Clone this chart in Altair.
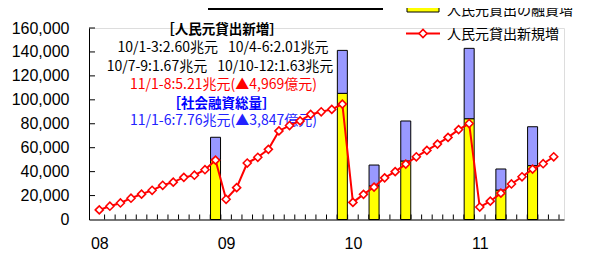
import altair as alt
import pandas as pd

# ---------------- data (億元) ----------------
months = list(range(44))  # 2008-01 .. 2011-08
loan_cum = [8000, 11100, 13800, 17800, 21200, 24400, 28600, 31200, 35200, 37000, 41600, 49600,
            16900, 26600, 47200, 52000, 58600, 74000, 78500, 82400, 87800, 90000, 92000, 96400,
            14300, 21000, 27100, 34800, 40000, 46300, 52400, 57700, 63000, 68600, 75100, 80200,
            10400, 15300, 22000, 29700, 35700, 42100, 46600, 52400]
bar_months = [11, 23, 26, 29, 35, 38, 41]
bar_loans = [50300, 105400, 28000, 48900, 84200, 24600, 45000]
bar_totals = [68700, 141300, 45500, 82300, 143000, 42200, 77500]
year_labels = ["08", "09", "10", "11"]
y_ticks = [0, 20000, 40000, 60000, 80000, 100000, 120000, 140000, 160000]
x_ticks = list(range(1, 45))

ann_texts = ["［人民元貸出新増］",
             "10/1-3:2.60兆元\u2002 10/4-6:2.01兆元",
             "10/7-9:1.67兆元\u2002 10/10-12:1.63兆元",
             "11/1-8:5.21兆元(▲4,969億元)",
             "［社会融資総量］",
             "11/1-6:7.76兆元(▲3,847億元)"]
legend_texts = ["人民元貸出の融資増", "人民元貸出新規増"]

# ---------------- layout ----------------
W, H = 475, 191.5
CJK = "Noto Sans CJK JP, sans-serif"
LAT = "Liberation Sans, Arial, sans-serif"

xs = alt.Scale(domain=[0, 44], nice=False, zero=False)
ys = alt.Scale(domain=[0, 160000], nice=False)

line_df = pd.DataFrame({"pos": [m + 0.5 for m in months], "v": loan_cum})
bar_df = pd.DataFrame({"pos": [m + 0.5 for m in bar_months], "loan": bar_loans, "total": bar_totals})
one = pd.DataFrame({"a": [0]})

label_expr = "[" + ",".join("'%s'" % s for s in year_labels) + "][floor(datum.value / 12)]"

x_axis = alt.Axis(values=[0.5, 12.5, 24.5, 36.5], labelExpr=label_expr, tickSize=0, grid=False,
                  domainColor="#000", domainWidth=1, labelFont=LAT, labelFontSize=16,
                  labelColor="#000", labelPadding=16, title=None)
y_axis = alt.Axis(values=y_ticks, labelExpr="format(datum.value, ',')", tickSize=0, grid=False,
                  domainColor="#000", domainWidth=1, labelFont=LAT, labelFontSize=16,
                  labelColor="#000", labelPadding=20, title=None)


def X(f):
    return alt.X(f, scale=xs, axis=x_axis)


def Y(f):
    return alt.Y(f, scale=ys, axis=y_axis)


# bars
yellow = alt.Chart(bar_df).mark_bar(size=10, color="#FFFF00", stroke="#000", strokeWidth=1).encode(
    x=X("pos:Q"), y=Y("loan:Q"))
purple = alt.Chart(bar_df).mark_bar(size=10, color="#9999FF", stroke="#000", strokeWidth=1).encode(
    x=X("pos:Q"), y=Y("loan:Q"), y2="total:Q")

layers = [yellow, purple]

# annotations
ann_style = [
    dict(x=133, y=2, color="#000", bold=True),
    dict(x=134, y=20, color="#000", bold=False),
    dict(x=131, y=39, color="#000", bold=False),
    dict(x=134.5, y=56.5, color="#FF0000", bold=False),
    dict(x=132.5, y=75.5, color="#0000FF", bold=True),
    dict(x=134.5, y=93, color="#2222FF", bold=False),
]
for t, s in zip(ann_texts, ann_style):
    layers.append(
        alt.Chart(one).mark_text(text=t, font=CJK, fontSize=14 if not s["bold"] else 13.5,
                                 fontWeight="bold" if s["bold"] else "normal",
                                 color=s["color"], align="center", baseline="middle")
        .encode(x=alt.value(s["x"]), y=alt.value(s["y"]))
    )

# inner ticks
xt = alt.Chart(pd.DataFrame({"t": x_ticks})).mark_rule(color="#000", strokeWidth=1).encode(
    x=X("t:Q"), y=alt.value(H), y2=alt.value(H - 5))
yt = alt.Chart(pd.DataFrame({"v": y_ticks[1:]})).mark_rule(color="#000", strokeWidth=1).encode(
    y=Y("v:Q"), x=alt.value(0), x2=alt.value(6))

line = alt.Chart(line_df).mark_line(color="#FF0000", strokeWidth=2).encode(
    x=X("pos:Q"), y=Y("v:Q"))
pts = alt.Chart(line_df).mark_point(shape="diamond", filled=True, fill="#FFFFFF", stroke="#FF0000",
                                    strokeWidth=1.6, size=64, opacity=1).encode(
    x=X("pos:Q"), y=Y("v:Q"))

# legend
leg_rect = alt.Chart(one).mark_rect(color="#FFFF00", stroke="#000", strokeWidth=1).encode(
    x=alt.value(318), x2=alt.value(350), y=alt.value(-24), y2=alt.value(-16))
leg_line = alt.Chart(one).mark_rule(color="#FF0000", strokeWidth=2).encode(
    x=alt.value(317), x2=alt.value(351), y=alt.value(5.5))
leg_pt = alt.Chart(one).mark_point(shape="diamond", filled=True, fill="#FFFFFF", stroke="#FF0000",
                                   strokeWidth=1.6, size=64, opacity=1).encode(
    x=alt.value(334), y=alt.value(5.5))
leg_t1 = alt.Chart(one).mark_text(text=legend_texts[0], font=CJK, fontSize=14, color="#000",
                                  align="left", baseline="middle").encode(
    x=alt.value(358), y=alt.value(-17))
leg_t2 = alt.Chart(one).mark_text(text=legend_texts[1], font=CJK, fontSize=14, color="#000",
                                  align="left", baseline="middle").encode(
    x=alt.value(358), y=alt.value(6.5))

# top frame remnant
frame = alt.Chart(one).mark_rect(color="#000").encode(
    x=alt.value(119), x2=alt.value(294), y=alt.value(-23), y2=alt.value(-18))

chart = alt.layer(*layers, xt, yt, line, pts,
                  leg_rect, leg_line, leg_pt, leg_t1, leg_t2, frame).properties(
    width=W, height=H,
    padding={"left": 81, "top": 20, "right": 18, "bottom": 32},
    autosize=alt.AutoSizeParams(type="none"),
).configure_view(stroke=None).configure(background="#FFFFFF")

chart.save("out.html", embed_options={"renderer": "svg", "actions": False})
